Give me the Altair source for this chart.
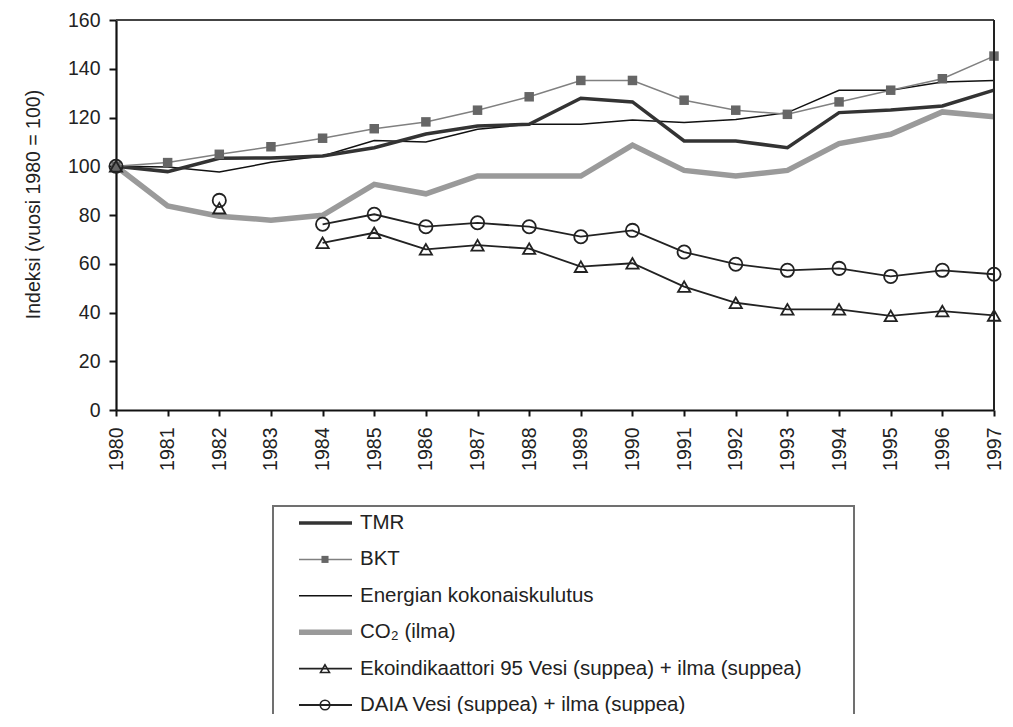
import altair as alt
import pandas as pd

# ---------------- data ----------------
years = list(range(1980, 1998))
tmr = [100, 97.8, 103.3, 103.4, 104.2, 107.6, 113.2, 116.5, 117.2, 127.9, 126.4, 110.4, 110.4, 107.6, 122.0, 123.1, 124.7, 131.2]
bkt = [100, 101.5, 104.9, 108.0, 111.5, 115.4, 118.2, 123.0, 128.5, 135.2, 135.2, 127.1, 123.0, 121.3, 126.4, 131.2, 135.9, 145.2]
energy = [100, 99.7, 97.6, 101.6, 104.2, 110.6, 110.0, 115.2, 117.2, 117.2, 119.0, 117.9, 119.2, 122.0, 131.2, 131.2, 134.6, 135.2]
co2 = [100, 83.7, 79.5, 77.9, 79.9, 92.6, 88.7, 96.0, 96.0, 96.0, 108.7, 98.3, 96.0, 98.3, 109.3, 113.1, 122.3, 120.3]
eko = [100, None, 82.8, None, 68.6, 72.7, 65.9, 67.6, 66.2, 58.8, 60.2, 50.6, 44.0, 41.3, 41.3, 38.6, 40.6, 38.8]
daia = [100, None, 86.0, None, 76.2, 80.3, 75.2, 76.8, 75.2, 71.1, 73.7, 64.8, 59.8, 57.3, 58.1, 54.8, 57.3, 55.7]
y_ticks = list(range(0, 161, 20))

legend_names = [
    "TMR",
    "BKT",
    "Energian kokonaiskulutus",
    "CO\u2082 (ilma)",
    "Ekoindikaattori 95 Vesi (suppea) + ilma (suppea)",
    "DAIA Vesi (suppea) + ilma (suppea)",
]
# legend line styles (colour, width)
legend_colors = ["#333333", "#808080", "#111111", "#9a9a9a", "#222222", "#222222"]
legend_widths = [3.5, 1.5, 1.5, 5.5, 1.8, 1.8]

FONT = "Liberation Sans"
W, H = 878, 694
PLOT_H = 390
LEFT = 108


def frame(vals, name):
    rows = []
    seg = 0
    prev_missing = False
    for yr, v in zip(years, vals):
        if v is None:
            prev_missing = True
            continue
        if prev_missing:
            seg += 1
            prev_missing = False
        rows.append({"year": yr, "value": v, "seg": seg, "series": name})
    return pd.DataFrame(rows)


xs = alt.Scale(domain=[1980, 1997], nice=False, zero=False)
ys = alt.Scale(domain=[0, 160], range=[PLOT_H, 0], nice=False, zero=False)

x_axis = alt.Axis(
    values=years, format="d", title=None, grid=False,
    labelAngle=270, labelAlign="right", labelBaseline="middle",
    labelPadding=11, labelFontSize=19.5, labelColor="#222", labelFont=FONT,
    tickSize=6, tickWidth=2, tickColor="#111", domainColor="#111", domainWidth=2.2,
    offset=-(H - PLOT_H), labelOverlap=False,
)
y_axis = alt.Axis(
    values=y_ticks, title="Indeksi (vuosi 1980 = 100)", grid=False,
    titleX=-83, titleY=184, titleAngle=270, titleAlign="center", titleBaseline="middle",
    titleFontSize=19.5, titleFontWeight="normal", titleColor="#222", titleFont=FONT,
    labelFontSize=19.5, labelColor="#222", labelFont=FONT, labelPadding=9,
    tickSize=7, tickWidth=2, tickColor="#111", domainColor="#111", domainWidth=2.2,
)


def enc(base):
    return base.encode(
        x=alt.X("year:Q", scale=xs, axis=x_axis),
        y=alt.Y("value:Q", scale=ys, axis=y_axis),
    )


d_tmr = frame(tmr, "TMR")
d_bkt = frame(bkt, "BKT")
d_en = frame(energy, "Energia")
d_co2 = frame(co2, "CO2")
d_eko = frame(eko, "Eko")
d_daia = frame(daia, "DAIA")

l_co2 = enc(alt.Chart(d_co2).mark_line(color="#9a9a9a", strokeWidth=5.5))
l_en = enc(alt.Chart(d_en).mark_line(color="#111111", strokeWidth=1.5))
l_tmr = enc(alt.Chart(d_tmr).mark_line(color="#333333", strokeWidth=3.5))
l_bkt = enc(alt.Chart(d_bkt).mark_line(color="#808080", strokeWidth=1.5))
l_eko = enc(alt.Chart(d_eko).mark_line(color="#222222", strokeWidth=1.8)).encode(detail="seg:N")
l_daia = enc(alt.Chart(d_daia).mark_line(color="#222222", strokeWidth=1.8)).encode(detail="seg:N")

p_bkt = enc(alt.Chart(d_bkt).mark_point(shape="square", filled=True, size=90, color="#666666", opacity=1))
p_eko = enc(alt.Chart(d_eko).mark_point(shape="triangle-up", filled=False, size=150,
                                         stroke="#222222", strokeWidth=1.8, opacity=1))
p_daia = enc(alt.Chart(d_daia).mark_point(shape="circle", filled=False, size=175,
                                           stroke="#222222", strokeWidth=1.8, opacity=1))

border_top = alt.Chart(pd.DataFrame({"a": [0]})).mark_rule(color="#444", strokeWidth=2).encode(
    x=alt.datum(1980, scale=xs, axis=x_axis), x2=alt.datum(1997),
    y=alt.datum(160, scale=ys, axis=y_axis))
border_right = alt.Chart(pd.DataFrame({"a": [0]})).mark_rule(color="#222", strokeWidth=2).encode(
    x=alt.datum(1997, scale=xs, axis=x_axis),
    y=alt.datum(0, scale=ys, axis=y_axis), y2=alt.datum(160))

main = alt.layer(l_co2, l_en, l_tmr, l_bkt, l_eko, l_daia,
                 p_bkt, p_eko, p_daia, border_top, border_right)

# ---------------- legend ----------------
leg = pd.DataFrame({
    "row": list(range(len(legend_names))),
    "name": legend_names,
    "col": legend_colors,
    "sw": legend_widths,
})
ly = alt.Scale(domain=[0, 5], range=[503, 685])
OX = 117 - 8 - LEFT  # shift so legend stays at the reference page position

box = alt.Chart(pd.DataFrame({"a": [0]})).mark_rect(
    fill="white", stroke="#707070", strokeWidth=2).encode(
    x=alt.value(156 + OX), x2=alt.value(737 + OX), y=alt.value(486), y2=alt.value(H + 40))

leg_lines = alt.Chart(leg).mark_rule().encode(
    x=alt.value(182 + OX), x2=alt.value(235 + OX),
    y=alt.Y("row:Q", scale=ly, axis=None),
    color=alt.Color("col:N", scale=None),
    strokeWidth=alt.StrokeWidth("sw:Q", scale=None),
)
leg_sq = alt.Chart(leg).transform_filter("datum.row == 1").mark_point(
    shape="square", filled=True, size=50, color="#666666", opacity=1).encode(
    x=alt.value(208 + OX), y=alt.Y("row:Q", scale=ly, axis=None))
leg_tri = alt.Chart(leg).transform_filter("datum.row == 4").mark_point(
    shape="triangle-up", filled=False, size=80, stroke="#222", strokeWidth=1.6, opacity=1).encode(
    x=alt.value(208 + OX), y=alt.Y("row:Q", scale=ly, axis=None))
leg_cir = alt.Chart(leg).transform_filter("datum.row == 5").mark_point(
    shape="circle", filled=False, size=90, stroke="#222", strokeWidth=1.6, opacity=1).encode(
    x=alt.value(208 + OX), y=alt.Y("row:Q", scale=ly, axis=None))
leg_text = alt.Chart(leg).mark_text(
    align="left", baseline="middle", fontSize=20.5, font=FONT, color="#222").encode(
    x=alt.value(243 + OX), y=alt.Y("row:Q", scale=ly, axis=None), text="name:N")

legend = alt.layer(box, leg_lines, leg_sq, leg_tri, leg_cir, leg_text)

chart = (
    alt.layer(main, legend)
    .resolve_scale(y="independent")
    .properties(
        width=W, height=H,
        autosize=alt.AutoSizeParams(type="none"),
        padding={"left": LEFT, "top": 12, "right": 11, "bottom": 0},
    )
    .configure(font=FONT)
    .configure_view(stroke="transparent", strokeWidth=0)
    .configure_axis(grid=False)
)

chart.save("out.html", embed_options={"renderer": "svg", "actions": False})
